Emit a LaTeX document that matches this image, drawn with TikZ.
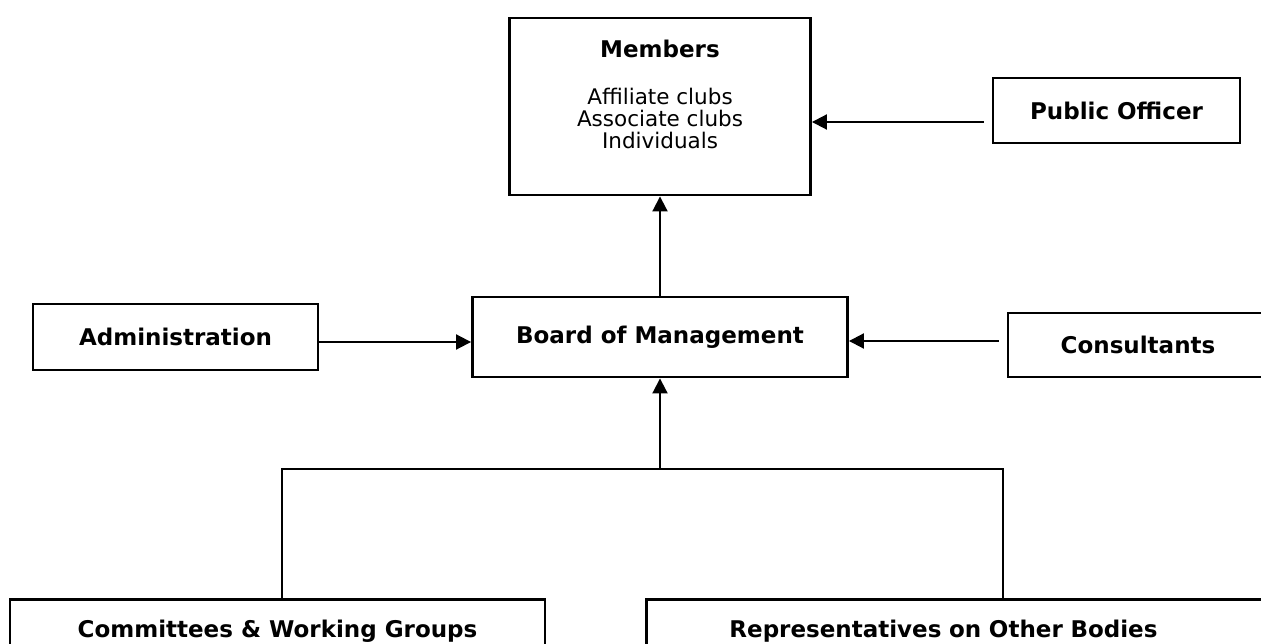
\documentclass[tikz,border=0pt]{standalone}
\usepackage{fontspec}
\setmainfont{DejaVu Sans}
\usetikzlibrary{arrows.meta}
\tikzset{
  orgbox/.style={draw,line width=2.9pt,inner sep=0pt,
    font=\bfseries\fontsize{23}{27}\selectfont},
  link/.style={line width=2pt},
  linkarrow/.style={link,-{Triangle[length=15pt,width=15pt]}},
}

\begin{document}
\begin{tikzpicture}[line join=miter,x=1pt,y=-1pt]
  \useasboundingbox (0,0) rectangle (1261,644);
  \clip (0,0) rectangle (1261,644);
  % members box and its lines
  \node[orgbox,minimum width=301pt,minimum height=177pt] (members) at (660,106.5) {};
  \node[anchor=base,font=\bfseries\fontsize{23}{27}\selectfont] (memtitle) at (660,58) {Members};
  \foreach \t [count=\i] in {Affiliate clubs,Associate clubs,Individuals}
    \node[anchor=base,font=\fontsize{21.5}{22}\selectfont] (mem\i) at (660,{83+22*\i}) {\t};
  \node[orgbox,minimum width=247pt,minimum height=65pt] (officer) at (1116.5,110.5) {Public Officer};
  % middle row
  \node[orgbox,minimum width=375pt,minimum height=80pt] (board) at (660,337) {Board of Management};
  \node[orgbox,minimum width=285pt,minimum height=66pt] (admin) at (175.5,337) {Administration};
  \node[orgbox,minimum width=260pt,minimum height=64pt] (consult) at (1138,345) {Consultants};
  % bottom row
  \node[orgbox,anchor=north,minimum width=535pt,inner ysep=20pt,text height=18pt,text depth=5pt]
    (committees) at (277.5,598) {Committees \& Working Groups};
  \node[orgbox,anchor=north west,text width=560pt,align=left,inner xsep=83pt,inner ysep=20pt,
    text height=18pt,text depth=5pt] (reps) at (645,598) {Representatives on Other Bodies};
  % connectors
  \draw[linkarrow] (board.north) -- (members.south);
  \draw[linkarrow,shorten <=8pt] ([yshift=-11.5pt]officer.west) -- ([yshift=-11.5pt]officer.west -| members.east);
  \draw[linkarrow] ([yshift=-5pt]admin.east) -- ([yshift=-5pt]admin.east -| board.west);
  \draw[linkarrow,shorten <=8pt] ([yshift=4pt]consult.west) -- ([yshift=4pt]consult.west -| board.east);
  \coordinate (fork) at (660,469);
  \draw[linkarrow] (fork) -- (board.south);
  \draw[link] ([xshift=4.5pt]committees.north) |- (fork) -| ([xshift=358pt]reps.north west);
\end{tikzpicture}
\end{document}
